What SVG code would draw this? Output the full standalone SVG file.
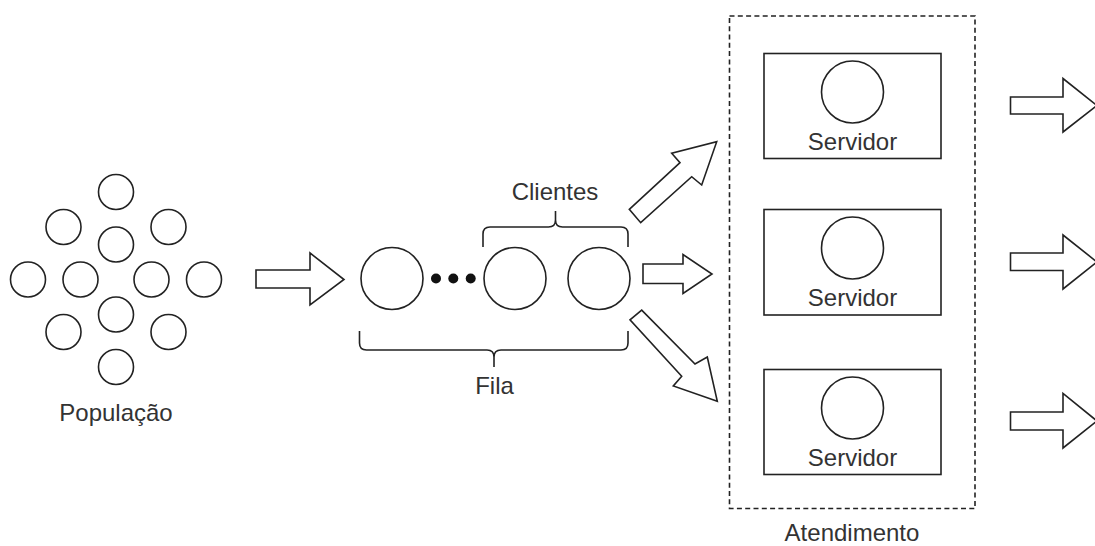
<svg xmlns="http://www.w3.org/2000/svg" width="1095" height="546" viewBox="0 0 1095 546">
  <style>
    .ln { fill: none; stroke: #222; stroke-width: 1.6; }
    .sh { fill: #fff; stroke: #222; stroke-width: 1.6; stroke-linejoin: miter; }
    .dot { fill: #111; }
    .lbl { font-family: "Liberation Sans", Arial, sans-serif; font-size: 24px; fill: #333; text-anchor: middle; }
    .dash { fill: none; stroke: #222; stroke-width: 1.6; stroke-dasharray: 5 3.3; }
  </style>
  <rect width="1095" height="546" fill="#fff"/>

  <!-- population: diamond of small circles -->
  <g id="populacao">
    <circle class="sh" cx="116" cy="192" r="17.5"/>
    <circle class="sh" cx="63.5" cy="227" r="17.5"/>
    <circle class="sh" cx="168.5" cy="227" r="17.5"/>
    <circle class="sh" cx="116" cy="244.5" r="17.5"/>
    <circle class="sh" cx="28" cy="279.5" r="17.5"/>
    <circle class="sh" cx="80.5" cy="279.5" r="17.5"/>
    <circle class="sh" cx="151.5" cy="279.5" r="17.5"/>
    <circle class="sh" cx="204" cy="279.5" r="17.5"/>
    <circle class="sh" cx="116" cy="314.5" r="17.5"/>
    <circle class="sh" cx="63.5" cy="332" r="17.5"/>
    <circle class="sh" cx="168.5" cy="332" r="17.5"/>
    <circle class="sh" cx="116" cy="367" r="17.5"/>
    <text class="lbl" x="116" y="421">População</text>
  </g>

  <!-- queue of clients -->
  <g id="fila">
    <circle class="sh" cx="392" cy="278.5" r="31"/>
    <circle class="dot" cx="436" cy="278.5" r="5"/>
    <circle class="dot" cx="453.3" cy="278.5" r="5"/>
    <circle class="dot" cx="470.7" cy="278.5" r="5"/>
    <circle class="sh" cx="515" cy="278.5" r="31"/>
    <circle class="sh" cx="599" cy="278.5" r="31"/>
  </g>

  <g id="chave-clientes">
    <path class="ln" d="M483,247 L483,234 Q483,227 490,227 L548.5,227 Q555.5,227 555.5,220 L555.5,211 M555.5,220 Q555.5,227 562.5,227 L621,227 Q628,227 628,234 L628,247"/>
    <text class="lbl" x="555" y="199.5">Clientes</text>
  </g>

  <g id="chave-fila">
    <path class="ln" d="M359.5,331 L359.5,343 Q359.5,350 366.5,350 L487,350 Q494,350 494,357 L494,367 M494,357 Q494,350 501,350 L621,350 Q628,350 628,343 L628,331"/>
    <text class="lbl" x="494.5" y="394">Fila</text>
  </g>

  <!-- service area -->
  <g id="atendimento">
    <rect class="dash" x="729.5" y="16" width="245.5" height="492.5"/>
    <text class="lbl" x="852" y="541">Atendimento</text>
  </g>

  <g id="servidor-1">
    <rect class="sh" x="764" y="53.5" width="177" height="105"/>
    <circle class="sh" cx="852.5" cy="92" r="31"/>
    <text class="lbl" x="852.5" y="150">Servidor</text>
  </g>
  <g id="servidor-2">
    <rect class="sh" x="764" y="209.5" width="177" height="105.5"/>
    <circle class="sh" cx="852.5" cy="248" r="31"/>
    <text class="lbl" x="852.5" y="306">Servidor</text>
  </g>
  <g id="servidor-3">
    <rect class="sh" x="764" y="369.5" width="177" height="105"/>
    <circle class="sh" cx="852.5" cy="408" r="31"/>
    <text class="lbl" x="852.5" y="466">Servidor</text>
  </g>

  <!-- block arrows -->
  <g id="conectores">
    <path class="sh" d="M256,270 L310,270 L310,253 L344,279.5 L310,305 L310,288 L256,288 Z"/>
    <path class="sh" d="M629.3,209.3 L680,162.7 L671.7,153.3 L716.7,141.7 L701.7,185 L691.7,176.7 L640.7,222.7 Z"/>
    <path class="sh" d="M643,264 L683,264 L683,254.5 L712,274 L683,293.5 L683,283.5 L643,283.5 Z"/>
    <path class="sh" d="M641.7,310.1 L695,364 L707.3,357 L717.3,401.2 L673.3,385.9 L681.7,376.2 L630,319.8 Z"/>
    <path class="sh" d="M1010.5,97 L1063,97 L1063,78.5 L1097,105.5 L1063,132 L1063,114 L1010.5,114 Z"/>
    <path class="sh" d="M1010.5,253 L1063,253 L1063,235 L1097,262 L1063,289 L1063,270.5 L1010.5,270.5 Z"/>
    <path class="sh" d="M1010.5,412 L1063,412 L1063,393.5 L1097,421 L1063,448 L1063,430 L1010.5,430 Z"/>
  </g>
</svg>
